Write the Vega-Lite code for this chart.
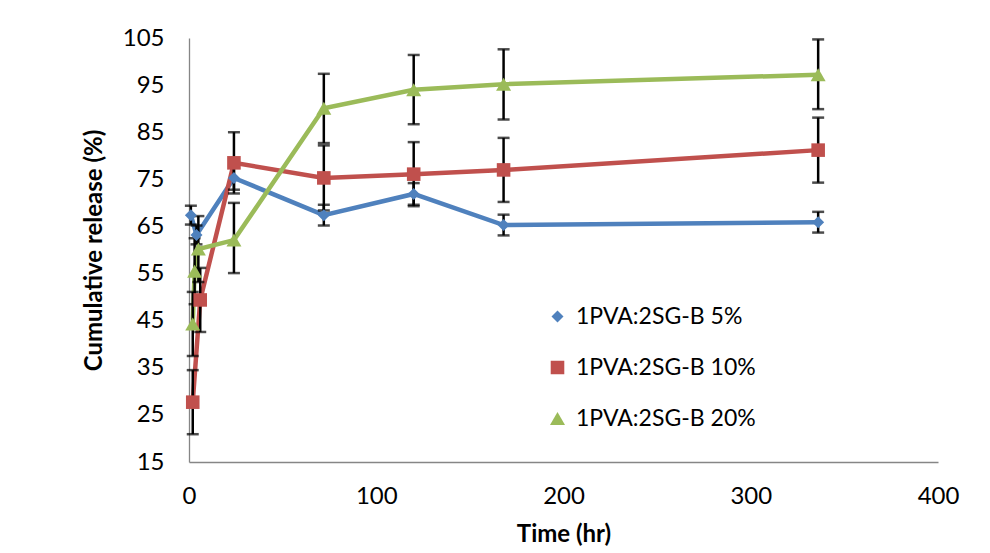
{
  "$schema": "https://vega.github.io/schema/vega-lite/v6.json",
  "width": 749,
  "height": 424,
  "autosize": {"type": "none"},
  "padding": {"left": 189, "top": 38, "right": 52, "bottom": 91},
  "background": "white",
  "config": {
    "view": {"stroke": null},
    "font": "Lato",
    "axis": {
      "grid": false,
      "ticks": false,
      "labelFlush": false,
      "domainColor": "#868686",
      "domainWidth": 1.3,
      "labelFont": "Lato",
      "labelFontSize": 24,
      "labelColor": "black",
      "titleFont": "Lato",
      "titleFontSize": 24,
      "titleFontWeight": "bold",
      "titleColor": "black"
    },
    "legend": {
      "orient": "none", "legendX": 357, "legendY": 267, "title": null, "padding": 0,
      "symbolSize": 2809, "symbolStrokeWidth": 0, "symbolOpacity": 1, "clipHeight": 23,
      "labelFont": "Lato", "labelFontSize": 23, "labelColor": "black", "labelOffset": 7,
      "rowPadding": 27, "labelLimit": 400
    }
  },
  "data": {
    "values": [
      {"series": "1PVA:2SG-B 5%", "t": 1, "v": 67.4, "lo": 65.4, "hi": 69.4},
      {"series": "1PVA:2SG-B 5%", "t": 4, "v": 63.2, "lo": 61.2, "hi": 65.2},
      {"series": "1PVA:2SG-B 5%", "t": 24, "v": 75.3, "lo": 72.8, "hi": 77.8},
      {"series": "1PVA:2SG-B 5%", "t": 72, "v": 67.4, "lo": 65.2, "hi": 69.6},
      {"series": "1PVA:2SG-B 5%", "t": 120, "v": 71.9, "lo": 69.6, "hi": 74.2},
      {"series": "1PVA:2SG-B 5%", "t": 168, "v": 65.3, "lo": 63.1, "hi": 67.5},
      {"series": "1PVA:2SG-B 5%", "t": 336, "v": 65.9, "lo": 63.7, "hi": 68.1},
      {"series": "1PVA:2SG-B 10%", "t": 2, "v": 27.7, "lo": 20.9, "hi": 34.5},
      {"series": "1PVA:2SG-B 10%", "t": 6, "v": 49.4, "lo": 42.6, "hi": 56.2},
      {"series": "1PVA:2SG-B 10%", "t": 24, "v": 78.5, "lo": 72.0, "hi": 85.0},
      {"series": "1PVA:2SG-B 10%", "t": 72, "v": 75.3, "lo": 68.4, "hi": 82.2},
      {"series": "1PVA:2SG-B 10%", "t": 120, "v": 76.1, "lo": 69.3, "hi": 82.9},
      {"series": "1PVA:2SG-B 10%", "t": 168, "v": 77.0, "lo": 70.2, "hi": 83.8},
      {"series": "1PVA:2SG-B 10%", "t": 336, "v": 81.2, "lo": 74.3, "hi": 88.1},
      {"series": "1PVA:2SG-B 20%", "t": 2, "v": 44.3, "lo": 37.5, "hi": 51.1},
      {"series": "1PVA:2SG-B 20%", "t": 3, "v": 55.5, "lo": 48.5, "hi": 62.5},
      {"series": "1PVA:2SG-B 20%", "t": 5, "v": 60.2, "lo": 53.2, "hi": 67.2},
      {"series": "1PVA:2SG-B 20%", "t": 24, "v": 62.1, "lo": 55.1, "hi": 70.0},
      {"series": "1PVA:2SG-B 20%", "t": 72, "v": 90.1, "lo": 82.7, "hi": 97.4},
      {"series": "1PVA:2SG-B 20%", "t": 120, "v": 94.0, "lo": 86.7, "hi": 101.4},
      {"series": "1PVA:2SG-B 20%", "t": 168, "v": 95.2, "lo": 87.7, "hi": 102.6},
      {"series": "1PVA:2SG-B 20%", "t": 336, "v": 97.2, "lo": 89.9, "hi": 104.7}
    ]
  },
  "layer": [
    {
      "mark": {"type": "line", "strokeWidth": 4.5},
      "encoding": {
        "x": {
          "field": "t", "type": "quantitative", "title": "Time (hr)",
          "scale": {"domain": [0, 400], "nice": false, "zero": false, "padding": 0},
          "axis": {"values": [0, 100, 200, 300, 400], "labelPadding": 22, "titlePadding": 14}
        },
        "y": {
          "field": "v", "type": "quantitative", "title": "Cumulative release (%)",
          "scale": {"domain": [15, 105], "nice": false, "zero": false, "padding": 0},
          "axis": {"values": [15, 25, 35, 45, 55, 65, 75, 85, 95, 105], "labelPadding": 25, "titlePadding": 16}
        },
        "stroke": {
          "field": "series", "type": "nominal",
          "scale": {"domain": ["1PVA:2SG-B 5%", "1PVA:2SG-B 10%", "1PVA:2SG-B 20%"], "range": ["#4F81BD", "#C0504D", "#9BBB59"]},
          "legend": {
            "encode": {
              "symbols": {
                "update": {
                  "strokeWidth": {"value": 0},
                  "opacity": {"value": 1}
                }
              }
            }
          }
        }
      }
    },
    {
      "mark": {"type": "errorbar", "ticks": {"size": 12, "thickness": 2.5, "color": "black"}, "rule": {"strokeWidth": 2.5, "color": "black"}},
      "encoding": {
        "x": {"field": "t", "type": "quantitative", "title": "Time (hr)"},
        "y": {"field": "lo", "type": "quantitative", "title": "Cumulative release (%)"},
        "y2": {"field": "hi"}
      }
    },
    {
      "mark": {"type": "point", "filled": true, "opacity": 1, "strokeWidth": 0},
      "encoding": {
        "x": {"field": "t", "type": "quantitative", "title": "Time (hr)"},
        "y": {"field": "v", "type": "quantitative", "title": "Cumulative release (%)"},
        "fill": {
          "field": "series", "type": "nominal",
          "scale": {"domain": ["1PVA:2SG-B 5%", "1PVA:2SG-B 10%", "1PVA:2SG-B 20%"], "range": ["#4F81BD", "#C0504D", "#9BBB59"]},
          "legend": {
            "encode": {
              "symbols": {
                "update": {
                  "strokeWidth": {"value": 0},
                  "opacity": {"value": 1}
                }
              }
            }
          }
        },
        "shape": {
          "field": "series", "type": "nominal",
          "scale": {"domain": ["1PVA:2SG-B 5%", "1PVA:2SG-B 10%", "1PVA:2SG-B 20%"], "range": ["diamond", "square", "triangle-up"]},
          "legend": {
            "encode": {
              "symbols": {
                "update": {
                  "strokeWidth": {"value": 0},
                  "opacity": {"value": 1}
                }
              }
            }
          }
        },
        "size": {
          "field": "series", "type": "nominal", "legend": null,
          "scale": {"domain": ["1PVA:2SG-B 5%", "1PVA:2SG-B 10%", "1PVA:2SG-B 20%"], "range": [144, 225, 420]}
        }
      }
    }
  ]
}
